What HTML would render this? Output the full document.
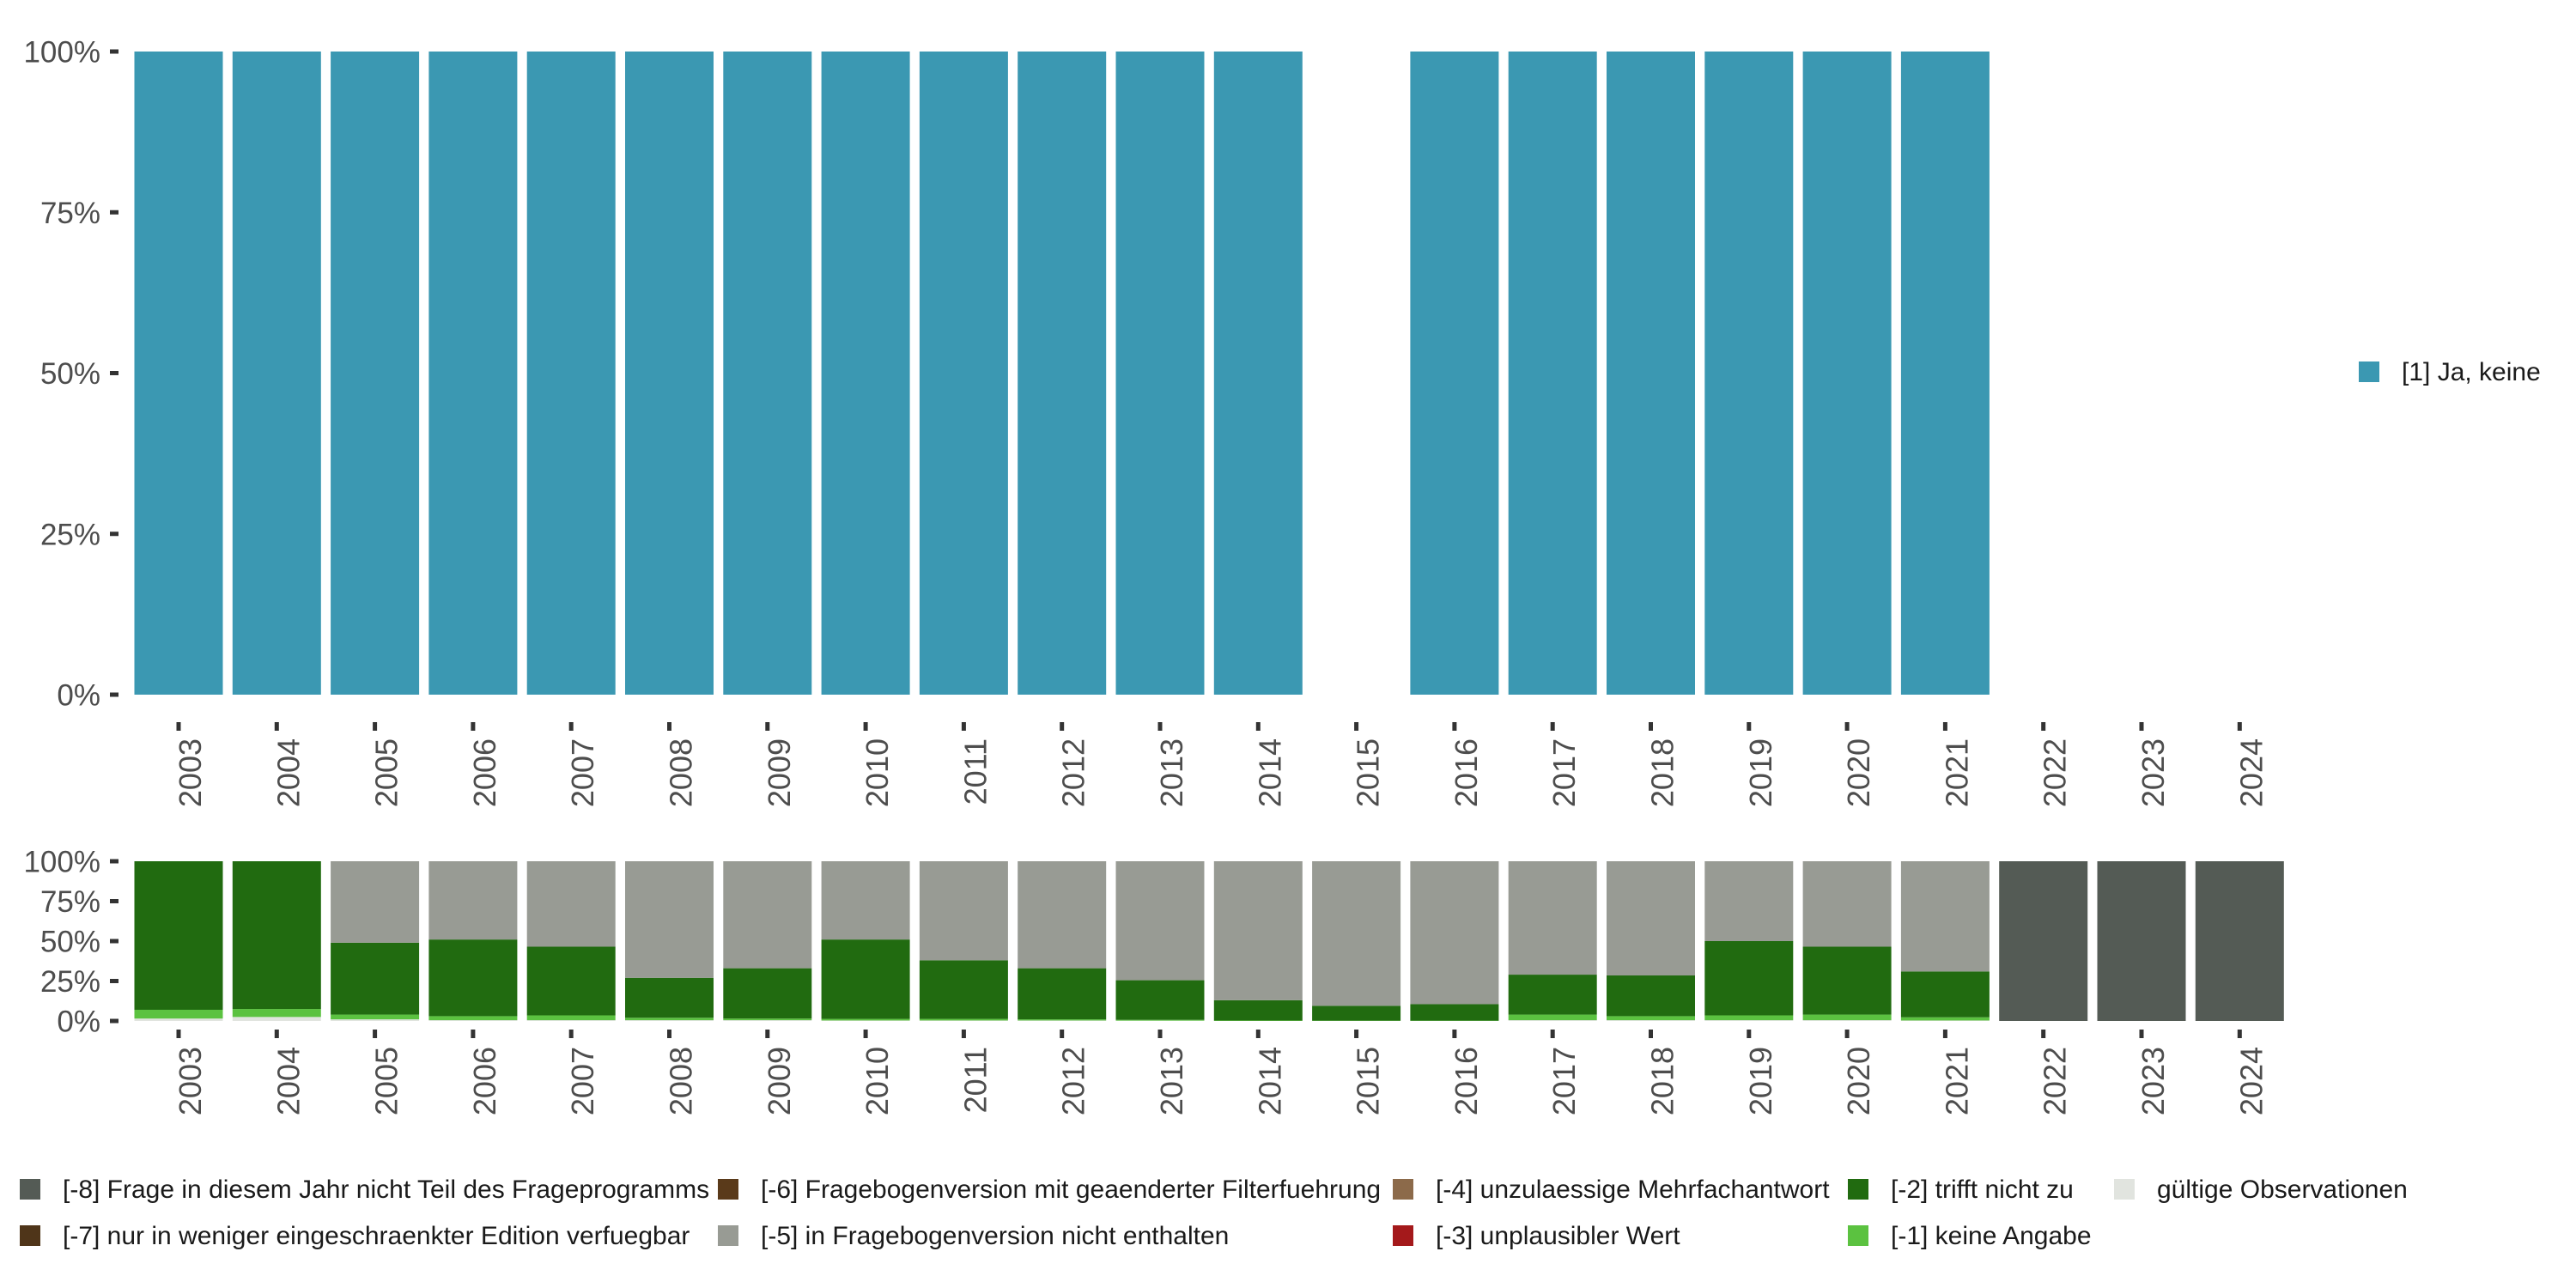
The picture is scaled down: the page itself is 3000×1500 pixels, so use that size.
<!DOCTYPE html>
<html><head><meta charset="utf-8"><style>
html,body{margin:0;padding:0;background:#fff;}
svg{display:block;font-family:"Liberation Sans","DejaVu Sans",sans-serif;}
</style></head><body>
<svg id="c" width="3000" height="1500" viewBox="0 0 3000 1500"></svg>
<script>
const years=["2003","2004","2005","2006","2007","2008","2009","2010","2011","2012","2013","2014","2015","2016","2017","2018","2019","2020","2021","2022","2023","2024"];
const topValues=[100,100,100,100,100,100,100,100,100,100,100,100,0,100,100,100,100,100,100,0,0,0];
const valid=[1.5,2.5,1,0.5,0.5,0.5,0.5,0.3,0.3,0.3,0.2,0,0,0,0.5,0.5,0.5,0.5,0.3,0,0,0];
const keineAngabe=[5.5,5,3,2.5,3,1.5,1,1,1,0.7,0.5,0.3,0.2,0.2,3.5,2.5,3,3.5,2,0,0,0];
const trifftNicht=[93,92.5,45,48,43,25,31.5,49.7,36.7,32,24.8,12.7,9.3,10.3,25,25.5,46.5,42.5,28.7,0,0,0];
const nichtEnthalten=[0,0,51,49,53.5,73,67,49,62,67,74.5,87,90.5,89.5,71,71.5,50,53.5,69,0,0,0];
const nichtTeil=[0,0,0,0,0,0,0,0,0,0,0,0,0,0,0,0,0,0,0,100,100,100];
const yTicks=[0,25,50,75,100];
const NS="http://www.w3.org/2000/svg";
const svg=document.getElementById('c');
function mk(t,a,p){const e=document.createElementNS(NS,t);for(const k in a)e.setAttribute(k,a[k]);(p||svg).appendChild(e);return e;}
const x0=208,pitch=114.3,bw=103;
function xs(i){return x0+i*pitch;}
function panel(name,yTop,yBot,tickY,labelY,fs){
  const ys=v=>yBot-(yBot-yTop)*v/100;
  const g=mk('g',{});
  
  
  yTicks.forEach(t=>{
    const tx=mk('text',{x:117,y:ys(t)+fs*0.36,'text-anchor':'end','font-size':fs,fill:'#4d4d4d'},g);
    tx.textContent=t+'%';
    
    
    mk('rect',{x:128,y:ys(t)-2.5,width:10,height:5,fill:'#333'},g);
  });
  const gx=mk('g',{});
  
  
  years.forEach((y,i)=>{
    mk('rect',{x:xs(i)-2.5,y:tickY,width:5,height:10,fill:'#333'},gx);
    const tx=mk('text',{x:0,y:0,'text-anchor':'end','font-size':36,fill:'#4d4d4d',transform:`translate(${xs(i)+26},${labelY}) rotate(-90)`},gx);
    tx.textContent=y;
    
    
  });
  return ys;
}
const ysT=panel('top',60,809,841,860,35);
years.forEach((y,i)=>{
  if(topValues[i]<=0)return;
  const r=mk('rect',{x:xs(i)-bw/2,y:ysT(topValues[i]),width:bw,height:ysT(0)-ysT(topValues[i]),fill:'#3b98b2'});
  
  
});
const ysB=panel('bottom',1003,1189,1199,1219,35);
const series=[[valid,'#e1e4df','valid'],[keineAngabe,'#5bc240','keine-angabe'],[trifftNicht,'#216b10','trifft-nicht-zu'],[nichtEnthalten,'#989b94','nicht-enthalten'],[nichtTeil,'#545b55','nicht-teil']];
years.forEach((y,i)=>{
  let cum=0;
  series.forEach(([arr,col,nm])=>{
    const v=arr[i];if(v<=0)return;
    const r=mk('rect',{x:xs(i)-bw/2,y:ysB(cum+v),width:bw,height:ysB(cum)-ysB(cum+v),fill:col});
    
    
    cum+=v;
  });
});
const rl=mk('g',{});


mk('rect',{x:2747,y:421,width:24,height:24,fill:'#3b98b2'},rl);
const rlt=mk('text',{x:2797,y:443,'font-size':30,fill:'#1a1a1a'},rl);
rlt.textContent='[1] Ja, keine';
const leg=[
 [23,1385,'#545b55','[-8] Frage in diesem Jahr nicht Teil des Frageprogramms'],
 [23,1439,'#4f3519','[-7] nur in weniger eingeschraenkter Edition verfuegbar'],
 [836,1385,'#5a3a1a','[-6] Fragebogenversion mit geaenderter Filterfuehrung'],
 [836,1439,'#989b94','[-5] in Fragebogenversion nicht enthalten'],
 [1622,1385,'#8c6a4a','[-4] unzulaessige Mehrfachantwort'],
 [1622,1439,'#a4191b','[-3] unplausibler Wert'],
 [2152,1385,'#216b10','[-2] trifft nicht zu'],
 [2152,1439,'#5bc240','[-1] keine Angabe'],
 [2462,1385,'#e1e4df','gültige Observationen']];
leg.forEach(([x,y,c,t])=>{
  const g=mk('g',{});
  
  
  mk('rect',{x:x,y:y-12,width:24,height:24,fill:c},g);
  const tx=mk('text',{x:x+50,y:y+10,'font-size':30,fill:'#1a1a1a'},g);
  tx.textContent=t;
});
</script>
</body></html>
